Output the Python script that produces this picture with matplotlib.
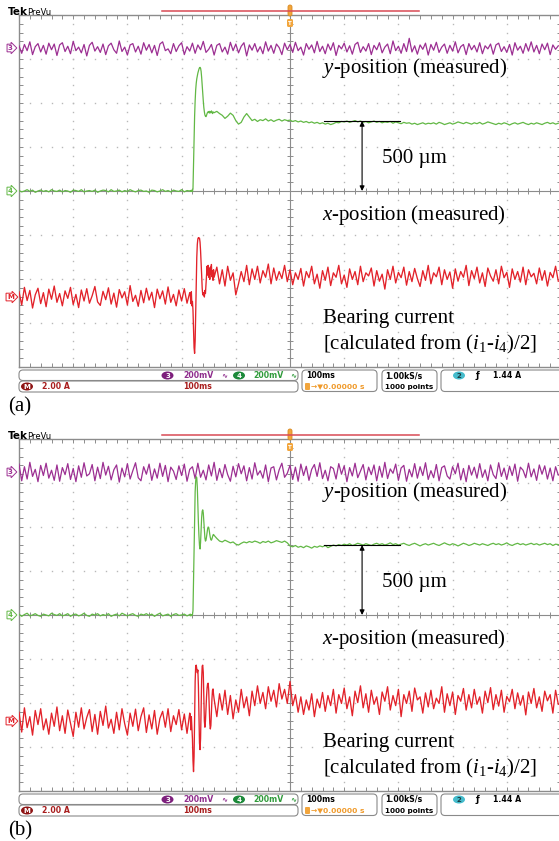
import numpy as np
import matplotlib.pyplot as plt
from matplotlib.patches import FancyBboxPatch, Ellipse
from matplotlib.transforms import blended_transform_factory

plt.rcParams['mathtext.fontset'] = 'custom'
plt.rcParams['mathtext.rm'] = 'Liberation Serif'
plt.rcParams['mathtext.it'] = 'Liberation Serif:italic'

W, H = 559, 841
PANEL_SHIFT = 424

# 100 ms/div, 10 div across, 8 div high, trigger in the middle.
# Trace samples are in 1/100 div, relative to the channel position marker.
ch3_pos = 3.25    # purple  (y-position)
ch4_pos = 0.0     # green   (x-position)
math_pos = -2.41  # red     (bearing current, math channel)

# coarse samples every 5 ms, fine samples every 1 ms around the event
t_full = -500 + 5 * np.arange(200)
t_pre = -500 + 5 * np.arange(64)
t_evt = -184 + np.arange(44)
t_post = -140 + 5 * np.arange(128)

# ---------------- (a) ----------------
purple_a = [5, -12, 8, -6, 14, -15, 3, 10, -9, 6,
            -14, 11, -4, 9, -17, 7, 12, -8, 4, -13,
            15, -6, 2, -11, 8, -18, 6, 13, -7, 3,
            -10, 9, -15, 5, 11, -4, -12, 16, -8, 2,
            -16, 7, 10, -9, 4, -14, 12, -5, 8, -11,
            6, -17, 9, 14, -6, -2, -13, 10, -8, 5,
            12, -15, 3, -7, 11, -12, 7, -4, 15, -10,
            -3, 8, -16, 6, 10, -9, 2, -14, 13, -6,
            9, -11, 4, 12, -18, 7, -5, 10, -9, 3,
            -13, 14, -7, 6, -12, 9, 1, -15, 11, -4,
            8, -10, 13, -6, 2, -16, 10, -3, 7, -11,
            15, -8, 4, -13, 9, -5, 12, -17, 6, -2,
            11, -9, 5, -14, 8, 13, -10, 3, -7, 10,
            -15, 6, -4, 12, -11, 2, 9, -13, 16, -6,
            4, -12, 10, -8, 22, -9, 5, -14, 7, -3,
            11, -16, 8, -5, 13, -10, 2, 9, -12, 6,
            -7, 14, -11, 3, 8, -15, 10, -4, 6, -9,
            12, -13, 5, -2, 9, -14, 7, 11, -8, 3,
            -10, 8, -16, 12, -5, 4, -12, 10, -7, 14,
            -9, 6, -13, 9, -4, 11, -15, 7, -3, 5]

green_a_pre = [1, -2, 0, 3, -1, 2, -3, 0,
               2, -1, 1, -2, 3, 0, -1, 2,
               -2, 1, 0, -3, 2, 1, -1, 3,
               -2, 0, 1, -1, 2, -3, 0, 2,
               1, -2, 3, -1, 0, 2, -2, 1,
               -1, 3, 0, -2, 1, 2, -1, 0,
               -3, 2, 1, -2, 0, 3, -1, 1,
               -2, 2, 0, -1, 3, -2, 1, 0]
green_a_evt = [1, -1, 2, 0, -1, 5, 60, 120, 170, 205, 230,
               245, 255, 262, 268, 273, 277, 280, 281, 279, 272, 258,
               240, 220, 205, 190, 180, 173, 170, 169, 172, 176, 179,
               180, 178, 181, 177, 180, 178, 182, 179, 176, 180, 178]
green_a_post = [178, 181, 176, 172, 165, 170, 177, 172,
                160, 152, 156, 168, 176, 168, 160, 163,
                158, 162, 160, 164, 159, 162, 158, 161,
                163, 159, 162, 160, 161, 158, 160, 157,
                159, 156, 158, 155, 157, 154, 156, 153,
                155, 152, 154, 151, 153, 156, 155, 158,
                157, 159, 156, 158, 160, 157, 159, 156,
                158, 155, 157, 159, 156, 158, 155, 157,
                156, 158, 154, 157, 155, 153, 156, 154,
                155, 152, 154, 151, 153, 155, 152, 154,
                153, 155, 152, 156, 154, 151, 153, 155,
                152, 154, 157, 155, 153, 156, 154, 152,
                155, 153, 156, 152, 154, 157, 155, 153,
                151, 154, 152, 155, 153, 150, 153, 155,
                152, 154, 156, 153, 151, 154, 152, 155,
                153, 151, 154, 156, 153, 155, 152, 154]

red_a_pre = [12, -18, 22, -8, 15, -25, 5, 20,
             -15, 10, -22, 18, -5, 25, -12, 8,
             -20, 14, -3, 22, -17, 6, -24, 16,
             -9, 19, -14, 3, 24, -11, -19, 13,
             -6, 21, -16, 9, -23, 17, -2, 12,
             -18, 26, -10, 4, -21, 15, -13, 20,
             -7, 11, -24, 18, -4, 14, -16, 23,
             -12, 6, -20, 16, -9, 19, -14, 10]
red_a_evt = [8, -15, 12, -20, -10, -30, -70, -115, -128, -100, -40,
             30, 90, 120, 132, 135, 133, 134, 125, 105, 80, 50,
             20, 5, 5, 10, 0, 15, 8, 30, 55, 70, 50,
             72, 45, 65, 40, 68, 52, 74, 46, 60, 38, 62]
red_a_post = [45, 68, 30, 62, 25, 70, 38, 55,
              5, 30, 58, 35, 72, 28, 64, 40,
              70, 32, 60, 45, 75, 30, 66, 38,
              58, 42, 72, 35, 62, 28, 55, 40,
              65, 25, 58, 44, 70, 30, 52, 20,
              60, 38, 68, 26, 55, 45, 72, 30,
              50, 22, 64, 40, 58, 28, 70, 35,
              55, 48, 66, 25, 60, 36, 52, 18,
              62, 40, 70, 32, 56, 44, 68, 27,
              58, 35, 65, 42, 24, 60, 38, 72,
              30, 55, 46, 68, 28, 62, 40, 57,
              20, 64, 36, 58, 45, 72, 26, 60,
              42, 68, 32, 55, 24, 66, 48, 36,
              62, 30, 70, 44, 56, 22, 64, 40,
              58, 34, 68, 28, 62, 46, 54, 30,
              66, 38, 60, 25, 56, 44, 70, 36]

# ---------------- (b) ----------------
purple_b = [18, -20, 12, -16, 22, -10, 6, -22, 15, -8,
            20, -14, 4, -19, 16, -21, 10, -6, 19, -17,
            8, -22, 14, -12, 21, -9, -4, 17, -20, 11,
            -15, 22, -7, 13, -18, 5, 16, -23, 9, -11,
            19, -16, 3, 21, -13, -20, 12, -5, 18, -19,
            7, -14, 20, -10, 15, -22, 11, 2, -17, 14,
            -8, 18, -21, 6, 12, -15, 20, -12, 4, -18,
            16, -9, 22, -19, 8, -13, 17, -6, -21, 13,
            -11, 19, -4, 14, -20, 10, -16, 21, -7, 3,
            -14, 16, -22, 9, 12, -18, 5, 20, -12, -3,
            15, -17, 11, -21, 18, -8, 13, -19, 6, 17,
            -10, 21, -15, 4, -20, 12, 8, -16, 19, -5,
            14, -22, 10, -9, 20, -13, 2, 17, -18, 11,
            -6, 16, -20, 13, -12, 22, -15, 7, -3, 18,
            -19, 9, 15, -21, 6, -11, 19, -14, 12, -8,
            21, -17, 3, -13, 17, -20, 10, 14, -9, -16,
            12, -4, 20, -18, 8, -22, 15, -7, 11, -14,
            19, -12, 5, -20, 16, -6, -15, 21, -10, 9,
            -17, 13, -8, 18, -21, 11, 4, -13, 20, -11,
            7, -19, 16, -5, 14, -16, 9, -20, 12, -7]

green_b_pre = [2, -3, 1, 4, -2, 0, 3, -1,
               -3, 2, 0, -2, 4, 1, -1, 3,
               -2, 0, 3, -3, 1, 2, -2, 0,
               4, -1, -3, 2, 0, 3, -2, 1,
               -1, 3, -3, 0, 2, -2, 4, 1,
               -2, 1, 3, -1, -3, 2, 0, 3,
               -1, 2, -3, 1, 4, -2, 0, 2,
               -3, 1, 3, -1, 0, 2, -2, 1]
green_b_evt = [2, -2, 1, -1, 0, 10, 80, 160, 230, 280, 305,
               314, 312, 290, 250, 210, 180, 158, 150, 165, 195, 222,
               236, 239, 232, 212, 190, 175, 168, 170, 178, 188, 196,
               200, 199, 192, 183, 176, 171, 170, 173, 178, 182, 183]
green_b_post = [181, 174, 168, 166, 170, 167, 164, 166,
                161, 159, 163, 166, 164, 167, 165, 168,
                166, 163, 167, 165, 168, 164, 166, 169,
                167, 165, 168, 164, 157, 155, 158, 154,
                156, 153, 157, 155, 152, 156, 154, 157,
                155, 158, 153, 156, 159, 157, 160, 158,
                161, 159, 162, 158, 160, 163, 161, 159,
                162, 160, 158, 161, 163, 160, 162, 159,
                161, 164, 160, 162, 159, 161, 163, 160,
                158, 161, 163, 160, 157, 160, 162, 159,
                161, 163, 160, 158, 161, 164, 161, 159,
                162, 160, 157, 160, 163, 161, 158, 160,
                163, 161, 159, 162, 160, 158, 161, 163,
                160, 162, 159, 161, 164, 160, 158, 161,
                163, 160, 162, 159, 161, 163, 160, 162,
                159, 161, 163, 160, 162, 158, 161, 160]

red_b_pre = [20, -25, 30, -15, 10, -32, 24, -8,
             28, -20, 5, -30, 18, -12, 32, -22,
             12, -28, 25, -5, -35, 20, -14, 30,
             -18, 8, 26, -24, 15, -30, 22, -10,
             34, -16, 4, -28, 20, -20, 28, -6,
             -32, 18, -12, 27, -22, 10, 30, -26,
             14, -18, 24, -30, 6, 22, -14, 28,
             -24, 12, -8, 26, -20, 16, -28, 18]
red_b_evt = [15, -20, 10, -15, -40, -90, -115, -80, 10, 90, 125,
             127, 118, 110, 116, 80, 10, -50, -65, -40, 30, 95,
             125, 127, 110, 60, 0, -14, 0, 30, 55, 75, 85,
             86, 70, 30, -5, -18, -10, 20, 50, 70, 73, 60]
red_b_post = [50, 10, 62, 25, 70, 15, 58, 5,
              48, 20, 72, 30, 55, 12, 68, 35,
              80, 40, 65, 28, 78, 45, 70, 32,
              85, 50, 72, 40, 90, 35, 60, 20,
              55, 15, 48, 25, 62, 10, 50, 30,
              65, 22, 58, 35, 72, 18, 60, 40,
              75, 28, 55, 12, 68, 42, 80, 30,
              62, 20, 70, 38, 55, 15, 66, 45,
              78, 25, 58, 35, 72, 10, 60, 40,
              68, 22, 75, 48, 55, 18, 64, 32,
              70, 28, 52, 40, 78, 20, 62, 35,
              66, 15, 58, 45, 74, 25, 60, 30,
              72, 38, 55, 18, 68, 42, 76, 26,
              60, 34, 70, 20, 56, 44, 72, 28,
              64, 36, 58, 14, 66, 40, 74, 30,
              55, 22, 68, 46, 60, 18, 70, 38]

# level of the settled y-position, marked with the 500 um arrow
step_level = [1.59, 1.59]

PURPLE = '#9c2f92'
GREEN = '#62b845'
RED = '#e2222a'
GRID = '#8c8c8c'
DOTS = '#b8b8b8'


def stitched(pre, evt, post):
    t = np.concatenate([t_pre, t_evt, t_post])
    v = np.array(pre + evt + post) / 100.0
    return t, v


def graticule(ax):
    ax.set_xlim(-500, 500)
    ax.set_ylim(-4, 4)
    minor_x = np.arange(-500, 501, 20)
    minor_y = np.arange(-4, 4.01, 0.2)
    ax.set_xticks(minor_x)
    ax.set_yticks(minor_y)
    ax.tick_params(direction='in', length=3, width=0.7, color=GRID,
                   top=True, right=True, labelbottom=False, labelleft=False)
    for s in ax.spines.values():
        s.set_color(GRID)
        s.set_linewidth(1.0)
    for xv in range(-400, 401, 100):
        if xv != 0:
            ax.plot(np.full(minor_y.size, xv), minor_y, ls='none', marker='s',
                    ms=1.0, mew=0, color=DOTS, zorder=1)
    for yv in range(-3, 4):
        if yv != 0:
            ax.plot(minor_x, np.full(minor_x.size, float(yv)), ls='none',
                    marker='s', ms=1.0, mew=0, color=DOTS, zorder=1)
    ax.axhline(0, color=GRID, lw=0.8, zorder=1)
    ax.axvline(0, color=GRID, lw=0.8, zorder=1)
    ax.plot(minor_x, np.zeros(minor_x.size), ls='none', marker='|', ms=5,
            mew=0.7, color=GRID, zorder=1)
    ax.plot(np.zeros(minor_y.size), minor_y, ls='none', marker='_', ms=5,
            mew=0.7, color=GRID, zorder=1)


def ch_marker(ax, y, label, color):
    tr = blended_transform_factory(ax.transAxes, ax.transData)
    ax.text(-0.016, y, label, transform=tr, ha='center', va='center',
            fontsize=5, fontweight='bold', color=color, clip_on=False,
            bbox=dict(boxstyle='rarrow,pad=0.12', fc='white', ec=color, lw=0.7))


fig = plt.figure(figsize=(W / 100, H / 100), dpi=100)
fig.patch.set_facecolor('white')

panels = [
    (purple_a, (green_a_pre, green_a_evt, green_a_post),
     (red_a_pre, red_a_evt, red_a_post)),
    (purple_b, (green_b_pre, green_b_evt, green_b_post),
     (red_b_pre, red_b_evt, red_b_post)),
]

for i, (purple, green, red) in enumerate(panels):
    top = 15 + i * PANEL_SHIFT
    ax = fig.add_axes([19 / W, 1 - (top + 352) / H, 542 / W, 352 / H])
    graticule(ax)
    ax.plot(t_full, ch3_pos + np.array(purple) / 100.0, color=PURPLE, lw=0.9, zorder=3)
    tg, vg = stitched(*green)
    ax.plot(tg, ch4_pos + vg, color=GREEN, lw=0.9, zorder=3)
    tr_, vr = stitched(*red)
    ax.plot(tr_, math_pos + vr, color=RED, lw=0.95, zorder=3)

    ch_marker(ax, ch3_pos, '3', PURPLE)
    ch_marker(ax, ch4_pos, '4', GREEN)
    ch_marker(ax, math_pos, 'M', RED)

    # 500 um step marker
    lvl = step_level[i]
    ax.plot([62, 203], [lvl, lvl], color='black', lw=0.8, zorder=4)
    ax.annotate('', xy=(133, ch4_pos), xytext=(133, lvl),
                arrowprops=dict(arrowstyle='<|-|>', color='black', lw=0.8,
                                mutation_scale=7, shrinkA=0, shrinkB=0), zorder=4)

# overlay in pixel coordinates for the screen furniture and labels
ov = fig.add_axes([0, 0, 1, 1])
ov.set_xlim(0, W)
ov.set_ylim(H, 0)
ov.axis('off')
ov.patch.set_alpha(0)

SANS = 'DejaVu Sans'
SERIF = 'Liberation Serif'


def rbox(x, y, w, h):
    ov.add_patch(FancyBboxPatch((x, y), w, h,
                                boxstyle='round,pad=0,rounding_size=4',
                                fc='white', ec='#8a8a8a', lw=0.8))


def badge(x, y, label, fc, tc='white'):
    ov.add_patch(Ellipse((x, y), 12, 8, fc=fc, ec='none'))
    ov.text(x, y + 0.3, label, ha='center', va='center', fontsize=5,
            fontweight='bold', color=tc, family=SANS)


def stat(x, y, s, color='black', size=5.6):
    ov.text(x, y, s, ha='left', va='center', fontsize=size,
            fontweight='bold', color=color, family=SANS)


for i, letter in enumerate(['(a)', '(b)']):
    oy = i * PANEL_SHIFT

    ov.text(8, 15 + oy, 'Tek', fontsize=7.5, fontweight='bold',
            family=SANS, va='baseline')
    ov.text(27, 14.5 + oy, 'PreVu', fontsize=6, family=SANS, va='baseline')
    ov.plot([162, 419], [10.5 + oy] * 2, color='#d84a55', lw=1.1)
    ov.add_patch(FancyBboxPatch((288, 5 + oy), 4, 11,
                                boxstyle='round,pad=0,rounding_size=2',
                                fc='#f2a53c', ec='#d88a20', lw=0.6))
    ov.add_patch(FancyBboxPatch((287, 19 + oy), 6, 8,
                                boxstyle='round,pad=0,rounding_size=1.5',
                                fc='#f2a53c', ec='none'))
    ov.text(290, 23.3 + oy, 'T', ha='center', va='center', fontsize=4,
            fontweight='bold', color='white', family=SANS)

    # status bar
    rbox(19, 370 + oy, 279, 10.5)
    rbox(19, 381 + oy, 279, 11)
    rbox(302, 370 + oy, 75, 21.5)
    rbox(382, 370 + oy, 55, 21.5)
    rbox(441, 370 + oy, 130, 21.5)

    r1 = 375.5 + oy
    r2 = 386.5 + oy
    badge(167.5, r1, '3', '#7d1f7c')
    stat(183, r1, '200mV', '#8e2c8c')
    stat(221, r1, '∿', '#8e2c8c', 5.2)
    badge(239, r1, '4', '#1d8a3a')
    stat(253, r1, '200mV', '#2f9a3a')
    stat(290, r1, '∿', '#2f9a3a', 5.2)
    badge(27, r2, 'M', '#8e1414')
    stat(42, r2, '2.00 A', '#a81c1c')
    stat(183, r2, '100ms', '#a81c1c')

    stat(306, r1, '100ms')
    ov.add_patch(FancyBboxPatch((305, r2 - 3.5), 5, 7,
                                boxstyle='round,pad=0,rounding_size=1',
                                fc='#f2a53c', ec='none'))
    stat(311, r2, '→▼0.00000 s', '#f09a2a', 5.4)
    stat(385, r1, '1.00kS/s')
    stat(385, r2, '1000 points', size=5.2)
    badge(459, r1, '2', '#45bccc', '#1a3a40')
    stat(476, r1, 'ƒ', 'black', 6.2)
    stat(493, r1, '1.44 A')

    # annotations
    ov.text(322, 73 + oy, '$y$-position (measured)', fontsize=15,
            family=SERIF, va='baseline')
    ov.text(382, 163 + oy, '500 µm', fontsize=15, family=SERIF, va='baseline')
    ov.text(322, 220 + oy, '$x$-position (measured)', fontsize=15,
            family=SERIF, va='baseline')
    ov.text(323, 323 + oy, 'Bearing current', fontsize=15, family=SERIF,
            va='baseline')
    ov.text(323, 349 + oy, '[calculated from ($i_1$-$i_4$)/2]', fontsize=15,
            family=SERIF, va='baseline')

    ov.text(8, 411 + oy, letter, fontsize=15, family=SERIF, va='baseline')

fig.savefig('out.png', dpi=100)
